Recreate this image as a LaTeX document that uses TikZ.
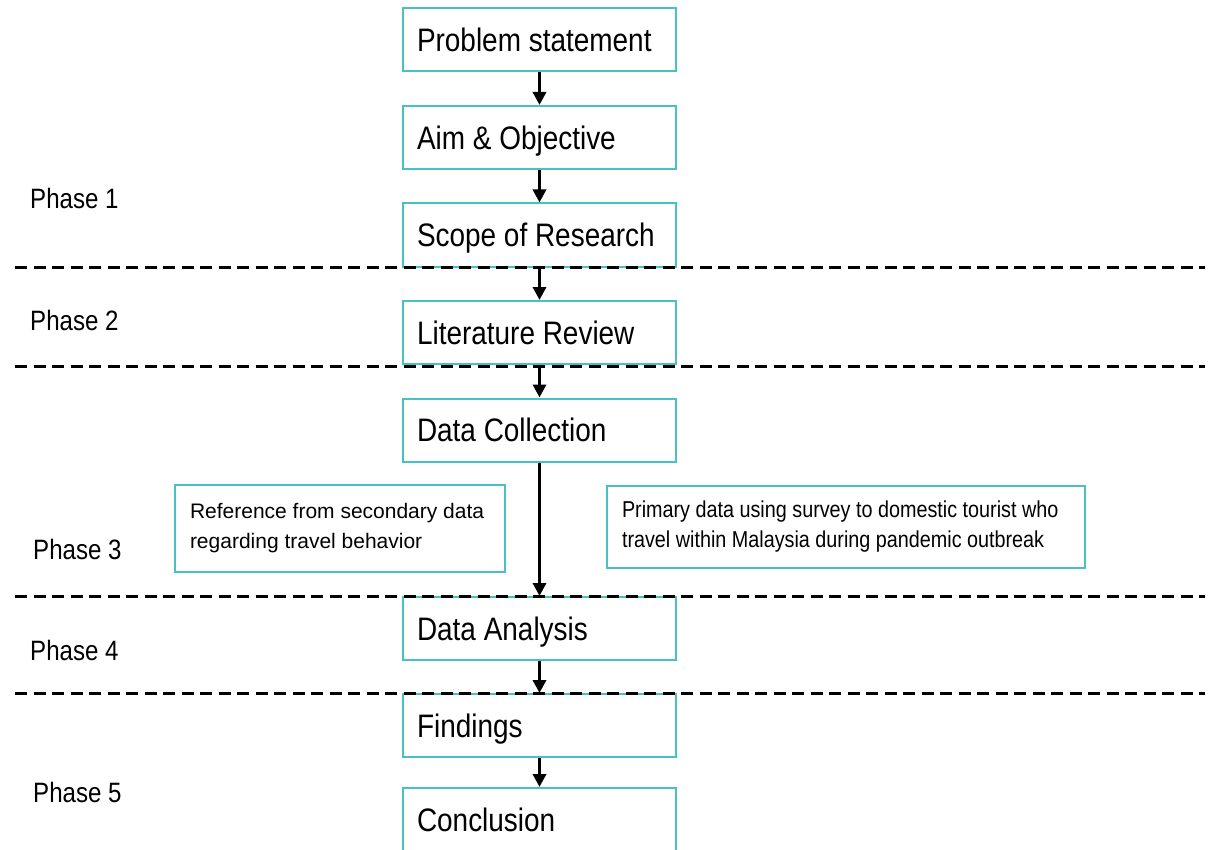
\documentclass[tikz,border=0pt]{standalone}
\usepackage{fontspec}
\setmainfont{Liberation Sans}
\newfontfamily\narrowsans[FakeStretch=0.86]{Liberation Sans}
\usepackage{xcolor}
\usetikzlibrary{arrows.meta, positioning}

\definecolor{boxteal}{RGB}{72,192,196}

\tikzset{
    stage/.style={draw=boxteal, line width=2pt, minimum width=273pt, minimum height=63pt,
        text width=245pt, inner xsep=14pt, align=left, text height=28pt, text depth=4.7pt,
        execute at begin node={\spaceskip=0pt\xspaceskip=0pt\relax},
        font=\narrowsans\fontsize{32.5}{38}\selectfont},
    note/.style={draw=boxteal, line width=2pt, align=left, inner xsep=15pt,
        execute at begin node={\spaceskip=0pt\xspaceskip=0pt\relax}},
    phase/.style={anchor=west, inner sep=0pt, font=\narrowsans\fontsize{28}{34}\selectfont},
    flow/.style={-{Triangle[length=13pt, width=13pt]}, line width=3.5pt},
    divider/.style={line width=3pt, dash pattern=on 12pt off 6.5pt},
}

\begin{document}
\begin{tikzpicture}[x=1pt, y=-1pt]
            \useasboundingbox (0, 0) rectangle (1209, 850);

            % main flow
            \node[stage] (ps) at (539.5, 39.5) {Problem statement};
            \node[stage] (aim) at (539.5, 137.5) {Aim \& Objective};
            \node[stage] (scope) at (539.5, 235) {Scope of Research};
            \node[stage] (lit) at (539.5, 332.5) {Literature Review};
            \node[stage] (dc) at (539.5, 430) {Data Collection};
            \node[stage] (da) at (539.5, 628.5) {Data Analysis};
            \node[stage] (find) at (539.5, 725.5) {Findings};
            \node[stage] (concl) at (539.5, 819.5) {Conclusion};

            % data sources
            \node[note, text width=300pt, minimum height=87pt, font=\fontsize{21}{30}\selectfont] (sec) at (340, 528.5)
                {Reference from secondary data\\regarding travel behavior};
            \node[note, text width=448pt, minimum height=82pt, font=\narrowsans\fontsize{23}{30}\selectfont] (prim) at (846, 527)
                {Primary data using survey to domestic tourist who\\travel within Malaysia during pandemic outbreak};

            % phases
            \node[phase] (p1) at (30, 198) {Phase 1};
            \node[phase] (p2) at (30, 320) {Phase 2};
            \node[phase] (p3) at (33, 549) {Phase 3};
            \node[phase] (p4) at (30, 650) {Phase 4};
            \node[phase] (p5) at (33, 792) {Phase 5};

            \draw[flow] (ps) -- (aim);
            \draw[flow] (aim) -- (scope);
            \draw[flow] (scope) -- (lit);
            \draw[flow] (lit) -- (dc);
            \draw[flow] (dc) -- (da);
            \draw[flow] (da) -- (find);
            \draw[flow] (find) -- (concl);

            \draw[divider] (15, 267) -- (1205, 267);
            \draw[divider] (15, 366) -- (1205, 366);
            \draw[divider] (15, 596) -- (1205, 596);
            \draw[divider] (15, 693) -- (1205, 693);
        \end{tikzpicture}
\end{document}
